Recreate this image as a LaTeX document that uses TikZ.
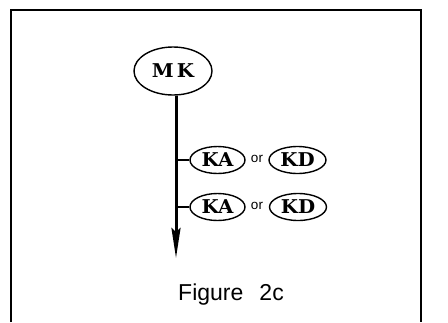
\documentclass[tikz,border=0pt]{standalone}
\usepackage{fontspec}
\newfontfamily\figsans{Liberation Sans}
\newfontfamily\figbold[FakeStretch=1.04]{DejaVu Serif}
\usetikzlibrary{shapes.geometric,arrows.meta}
\begin{document}
\begin{tikzpicture}[x=1pt, y=-1pt,
    oval/.style={draw, ellipse, line width=1.4pt, inner sep=0pt, font=\figbold\bfseries\fontsize{19}{19}\selectfont},
    ortext/.style={font=\figsans\fontsize{13.5}{13.5}\selectfont}]
    \useasboundingbox (0,0) rectangle (448,322);

    % Frame (open at the bottom)
    \draw[line width=2.2pt] (11,322) -- (11,10) -- (421,10) -- (421,322);

    % Top node
    \node[oval, minimum width=78pt, minimum height=48pt] (mk) at (173,71) {M\kern3pt K};

    % Choices
    \node[oval, minimum width=55pt, minimum height=27pt] (ka1) at (217.5,160) {KA};
    \node[ortext] (or1) at (257,159) {or};
    \node[oval, minimum width=57pt, minimum height=27pt] (kd1) at (297.5,160) {KD};

    \node[oval, minimum width=55pt, minimum height=27pt] (ka2) at (217.5,207) {KA};
    \node[ortext] (or2) at (257,206) {or};
    \node[oval, minimum width=57pt, minimum height=27pt] (kd2) at (298,207) {KD};

    % Main line
    \coordinate (tip) at (176,258);
    \coordinate (b1) at (176,160);
    \coordinate (b2) at (176,207);
    \draw[line width=3pt, -{Stealth[length=30pt, width=9pt, inset=4pt]}] (mk.south -| tip) -- (tip);
    \draw[line width=2pt] (b1) -- (ka1);
    \draw[line width=2pt] (b2) -- (ka2);

    \node[font=\figsans\fontsize{23}{23}\selectfont] (cap) at (231,295) {Figure\hspace{0.7em}2c};
\end{tikzpicture}
\end{document}
